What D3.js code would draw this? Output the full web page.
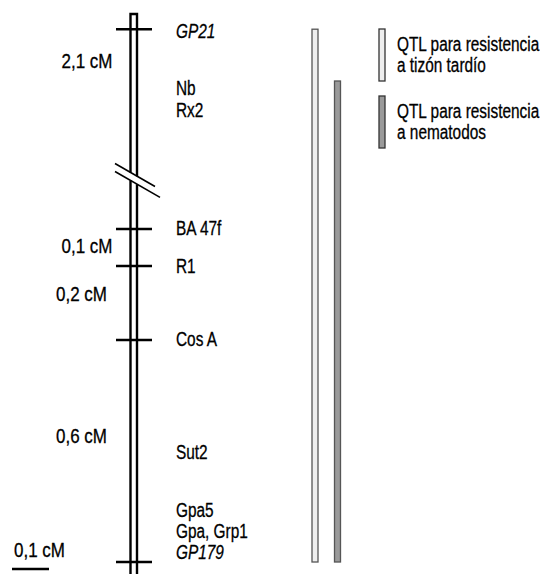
<!DOCTYPE html>
<html>
<head>
<meta charset="utf-8">
<script src="https://cdn.jsdelivr.net/npm/d3@7"></script>
<style>
  html, body { margin: 0; padding: 0; background: #fff; }
  svg { display: block; }
  text { font-family: "Liberation Sans", Arial, sans-serif; font-size: 20px; fill: #000; stroke: #000; stroke-width: 0.3px; }
</style>
</head>
<body>
<svg id="chart" width="542" height="574"></svg>
<script>
// ---- data (map units: cM, GP21 sits above the break) ----
const tickMarkers = ["GP21", "BA 47f", "R1", "Cos A", "GP179"];
const tickPos = [-0.54, 0, 0.1, 0.3, 0.9];

const geneLabels = ["GP21", "Nb", "Rx2", "BA 47f", "R1", "Cos A", "Sut2", "Gpa5", "Gpa, Grp1", "GP179"];
const geneLabelPos = [-0.535, -0.381, -0.322, -0.003, 0.101, 0.297, 0.603, 0.76, 0.816, 0.872];
const geneItalic = [true, false, false, false, false, false, false, false, false, true];

const intervalLabels = ["2,1 cM", "0,1 cM", "0,2 cM", "0,6 cM"];
const intervalPos = [-0.454, 0.046, 0.176, 0.559];

const qtlNames = ["QTL para resistencia a tizón tardío", "QTL para resistencia a nematodos"];
const qtlStart = [-0.54, -0.4];
const qtlEnd = [0.9, 0.9];
const legendLines = [["QTL para resistencia", "a tizón tardío"], ["QTL para resistencia", "a nematodos"]];

const scaleBarCM = 0.1;
const scaleBarLabel = "0,1 cM";
const breakPos = -0.15;

// ---- layout ----
const svg = d3.select("#chart");
const y = d3.scaleLinear().domain([0, 0.9]).range([229, 562]);
const pxPerCM = y(1) - y(0);

const chrL = 130.5, chrR = 137, chrTop = 14, chrBottom = 580;
const sw = 2.4;
const capShift = 7.1;   // half cap height for vertical centring
const squeeze = 0.77;   // condensed look
const squeezeNum = 0.85;

function label(x, yy, txt, opts = {}) {
  const t = svg.append("text")
    .attr("transform", `translate(${x},${yy}) scale(${opts.sq || squeeze},1)`)
    .attr("text-anchor", opts.anchor || "start")
    .text(txt);
  if (opts.italic) t.style("font-style", "italic");
  return t;
}

// break geometry
const slope = 0.575, bx0 = 115, bx1 = [155, 160];
const bUpper0 = y(breakPos) - 10, bLower0 = y(breakPos) - 2;
const upperAt = x => bUpper0 + slope * (x - bx0);
const lowerAt = x => bLower0 + slope * (x - bx0);

// chromosome top segment with cap
svg.append("path")
  .attr("d", `M${chrL},${upperAt(chrL)} V${chrTop} H${chrR} V${upperAt(chrR)}`)
  .attr("fill", "none").attr("stroke", "#000").attr("stroke-width", sw);
// chromosome lower segments
[chrL, chrR].forEach(x => {
  svg.append("line").attr("x1", x).attr("x2", x)
    .attr("y1", lowerAt(x)).attr("y2", chrBottom)
    .attr("stroke", "#000").attr("stroke-width", sw);
});
// break slashes
svg.append("line").attr("x1", bx0).attr("y1", upperAt(bx0)).attr("x2", bx1[0]).attr("y2", upperAt(bx1[0]))
  .attr("stroke", "#000").attr("stroke-width", 1.6);
svg.append("line").attr("x1", bx0).attr("y1", lowerAt(bx0)).attr("x2", bx1[1]).attr("y2", lowerAt(bx1[1]))
  .attr("stroke", "#000").attr("stroke-width", 1.6);

// ticks
svg.selectAll("line.tick").data(tickPos).enter().append("line")
  .attr("class", "tick")
  .attr("x1", 116).attr("x2", 152)
  .attr("y1", d => y(d)).attr("y2", d => y(d))
  .attr("stroke", "#000").attr("stroke-width", sw);

// gene labels
geneLabels.forEach((d, i) => {
  label(176, y(geneLabelPos[i]) + capShift, d, { italic: geneItalic[i] });
});

// interval labels
const intervalRight = [112.5, 112.5, 107, 107];
intervalLabels.forEach((d, i) => {
  label(intervalRight[i], y(intervalPos[i]) + capShift, d, { anchor: "end", sq: squeezeNum });
});

// QTL bars
const qtlX = [312, 334.5], barW = 6;
const qtlFill = ["#eeeeee", "#9a9a9a"];
svg.selectAll("rect.qtl").data(qtlNames).enter().append("rect")
  .attr("class", "qtl")
  .attr("x", (d, i) => qtlX[i])
  .attr("y", (d, i) => y(qtlStart[i]))
  .attr("width", barW)
  .attr("height", (d, i) => y(qtlEnd[i]) - y(qtlStart[i]))
  .attr("fill", (d, i) => qtlFill[i])
  .attr("stroke", "#555").attr("stroke-width", 1.3);

// legend
const legTop = [29, 96], legH = 52;
legendLines.forEach((lines, i) => {
  svg.append("rect")
    .attr("x", 379).attr("y", legTop[i]).attr("width", barW).attr("height", legH)
    .attr("fill", qtlFill[i]).attr("stroke", "#333").attr("stroke-width", 1.3);
  lines.forEach((t, j) => {
    label(397, legTop[i] + 15 + j * 21 + capShift, t);
  });
});

// scale bar
svg.append("line")
  .attr("x1", 12).attr("x2", 12 + scaleBarCM * pxPerCM)
  .attr("y1", 569).attr("y2", 569)
  .attr("stroke", "#000").attr("stroke-width", sw);
label(14, 550 + capShift, scaleBarLabel, { sq: squeezeNum });
</script>
</body>
</html>
